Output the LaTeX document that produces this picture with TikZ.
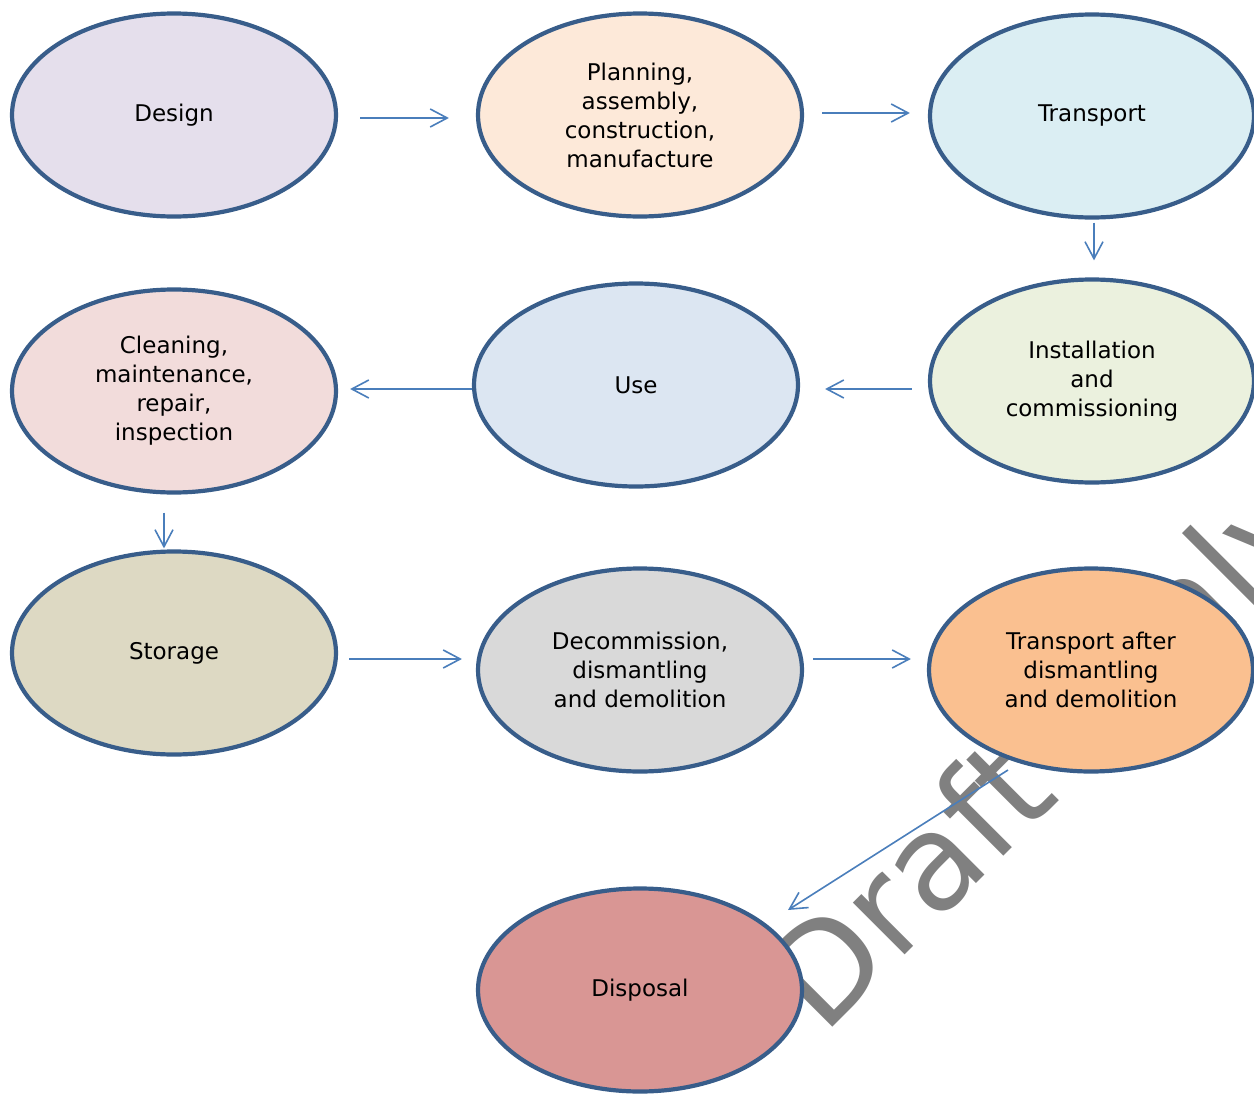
\documentclass[tikz,border=0pt]{standalone}
\usepackage{fontspec}
\setmainfont{DejaVu Sans}
\usetikzlibrary{shapes.geometric,arrows.meta}

\definecolor{rim}{HTML}{385D8A}
\definecolor{flowblue}{HTML}{4A7EBB}
\definecolor{markgray}{HTML}{808080}
\definecolor{designfill}{HTML}{E5DFEC}
\definecolor{planfill}{HTML}{FDE9D9}
\definecolor{transfill}{HTML}{DBEEF3}
\definecolor{instfill}{HTML}{EBF1DE}
\definecolor{usefill}{HTML}{DCE6F2}
\definecolor{cleanfill}{HTML}{F2DCDB}
\definecolor{storefill}{HTML}{DDD9C3}
\definecolor{decomfill}{HTML}{D9D9D9}
\definecolor{afterfill}{HTML}{FAC090}
\definecolor{dispfill}{HTML}{D99694}

\begin{document}
\begin{tikzpicture}[x=1pt,y=-1pt,
    stage/.style={ellipse, draw=rim, line width=4.2pt,
        minimum width=324pt, minimum height=203pt, inner sep=0pt,
        align=center, font=\fontsize{23}{29}\selectfont},
    flow/.style={draw=flowblue, line width=1.6pt,
        -{Straight Barb[length=17pt,width=18pt]}},
    ]
    \useasboundingbox (0,0) rectangle (1254,1095);

    % watermark sits behind the stages
    \node[rotate=45, anchor=base west, inner sep=0pt, text=markgray,
        font=\fontsize{134}{134}\selectfont] (mark) at (823,1037) {Draft\hspace{0.2em} Only};

    \node[stage, fill=designfill] (design) at (174,115) {Design};
    \node[stage, fill=planfill] (plan) at (640,115) {Planning,\\assembly,\\construction,\\manufacture};
    \node[stage, fill=transfill] (trans) at (1092,116) {Transport};
    \node[stage, fill=instfill] (inst) at (1092,381) {Installation\\and\\commissioning};
    \node[stage, fill=usefill] (use) at (636,385) {Use};
    \node[stage, fill=cleanfill] (clean) at (174,391) {Cleaning,\\maintenance,\\repair,\\inspection};
    \node[stage, fill=storefill] (store) at (174,653) {Storage};
    \node[stage, fill=decomfill] (decom) at (640,670) {Decommission,\\dismantling\\and demolition};
    \node[stage, fill=afterfill] (after) at (1091,670) {Transport after\\dismantling\\and demolition};
    \node[stage, fill=dispfill] (disp) at (640,990) {Disposal};

    \draw[flow] ([shift={(22,3)}]design.east) -- ([shift={(-27,3)}]plan.west);
    \draw[flow] ([shift={(18,-2)}]plan.east) -- ([shift={(-18,-3)}]trans.west);
    \draw[flow] ([shift={(2,3)}]trans.south) -- ([shift={(2,-17)}]inst.north);
    \draw[flow] ([shift={(-16,8)}]inst.west) -- ([shift={(25,4)}]use.east);
    \draw[flow] ([shift={(0,4)}]use.west) -- ([shift={(12,-2)}]clean.east);
    \draw[flow] ([shift={(-10,18)}]clean.south) -- ([shift={(-10,-1)}]store.north);
    \draw[flow] ([shift={(11,6)}]store.east) -- ([shift={(-14,-11)}]decom.west);
    \draw[flow] ([shift={(9,-11)}]decom.east) -- ([shift={(-16,-11)}]after.west);
    \draw[flow] ([shift={(-83,100)}]after.center) -- ([shift={(148,-80)}]disp.center);
\end{tikzpicture}
\end{document}
